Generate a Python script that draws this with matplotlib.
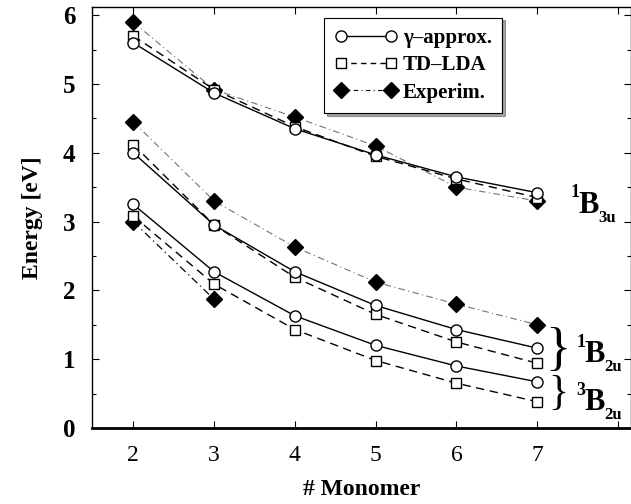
import matplotlib
matplotlib.use("Agg")
import matplotlib.pyplot as plt

# monomer count
monomers = [2, 3, 4, 5, 6, 7]

# 1B3u state
b3u_gamma = [5.60, 4.87, 4.35, 3.97, 3.65, 3.42]
b3u_tdlda = [5.70, 4.92, 4.38, 3.95, 3.62, 3.35]
b3u_exp = [5.90, 4.92, 4.52, 4.10, 3.50, 3.30]

# 1B2u state
s_b2u_gamma = [4.00, 2.95, 2.27, 1.78, 1.43, 1.16]
s_b2u_tdlda = [4.12, 2.95, 2.19, 1.65, 1.25, 0.94]
s_b2u_exp = [4.45, 3.30, 2.63, 2.12, 1.80, 1.50]

# 3B2u state (experiment only for 2 and 3)
t_b2u_gamma = [3.25, 2.27, 1.63, 1.20, 0.90, 0.67]
t_b2u_tdlda = [3.08, 2.09, 1.43, 0.98, 0.65, 0.38]
t_monomers_exp = [2, 3]
t_b2u_exp = [3.00, 1.87]

xticks = [2, 3, 4, 5, 6, 7, 8]
xticklabels = ["2", "3", "4", "5", "6", "7", ""]
yticks = [0, 1, 2, 3, 4, 5, 6]

# state labels: (x, baseline y, superscript, subscript)
state_labels = [(7.51, 3.13, "1", "3u"), (7.58, 0.96, "1", "2u"), (7.58, 0.26, "3", "2u")]

plt.rcParams["font.family"] = ["Liberation Serif", "DejaVu Serif"]

fig = plt.figure(figsize=(6.31, 5.04), dpi=100)
ax = fig.add_axes([0.146, 0.151, 0.854, 0.835])

circ = dict(marker="o", ms=8, mfc="white", mec="black", mew=1.0)
sq = dict(marker="s", ms=7, mfc="white", mec="black", mew=1.0)
dia = dict(marker="D", ms=8, mfc="black", mec="black")
dashdot = (0, (6, 3, 1, 3))

# experiment lines underneath
ax.plot(monomers, b3u_exp, color="0.45", lw=0.8, ls=dashdot, **dia)
ax.plot(monomers, s_b2u_exp, color="0.45", lw=0.8, ls=dashdot, **dia)
ax.plot(t_monomers_exp, t_b2u_exp, color="black", lw=0.9, ls=dashdot, **dia)

ax.plot(monomers, b3u_tdlda, color="black", lw=1.0, ls=(0, (6, 4)), **sq)
ax.plot(monomers, s_b2u_tdlda, color="black", lw=1.0, ls=(0, (6, 4)), **sq)
ax.plot(monomers, t_b2u_tdlda, color="black", lw=1.0, ls=(0, (6, 4)), **sq)

ax.plot(monomers, b3u_gamma, color="black", lw=1.0, **circ)
ax.plot(monomers, s_b2u_gamma, color="black", lw=1.0, **circ)
ax.plot(monomers, t_b2u_gamma, color="black", lw=1.0, **circ)

# legend handles
h1, = ax.plot([], [], color="black", lw=1.0, **circ)
h2, = ax.plot([], [], color="black", lw=1.0, ls=(0, (4, 3)), **sq)
h3, = ax.plot([], [], color="black", lw=0.8, ls=(0, (4, 3, 1, 3)), **dia)
leg = ax.legend([h1, h2, h3], ["γ–approx.", "TD–LDA", "Experim."],
                loc="upper left", bbox_to_anchor=(0.43, 0.975), borderaxespad=0,
                numpoints=2, handlelength=3.0, fancybox=False, shadow=True,
                edgecolor="black", framealpha=1, prop=dict(weight="bold", size=15),
                labelspacing=0.35, handletextpad=0.3, borderpad=0.5)
leg.get_frame().set_linewidth(0.8)

for x, y, sup, sub in state_labels:
    ax.text(x, y, "B", fontsize=22, fontweight="bold", ha="left", va="baseline")
    ax.annotate(sup, (x, y), xytext=(-5.8, 11), textcoords="offset points",
                fontsize=13, fontweight="bold", ha="left", va="baseline")
    ax.annotate(sub, (x, y), xytext=(14.6, -6.5), textcoords="offset points",
                fontsize=12, fontweight="bold", ha="left", va="baseline")

ax.text(7.26, 1.12, "}", fontsize=38, ha="center", va="center")
ax.text(7.26, 0.49, "}", fontsize=30, ha="center", va="center")

ax.set_xlim(1.49, 8.16)
ax.set_ylim(0, 6.12)
ax.set_xticks(xticks, labels=xticklabels, fontsize=17)
ax.set_yticks(yticks, labels=[str(v) for v in yticks], fontsize=18, fontweight="bold")
ax.set_yticks([0.5, 1.5, 2.5, 3.5, 4.5, 5.5], minor=True)
ax.tick_params(which="both", direction="in", top=True, right=True, width=0.8)
ax.tick_params(which="major", length=5)
ax.tick_params(which="minor", length=3)
ax.tick_params(axis="y", pad=12)
ax.tick_params(axis="x", pad=12)
for s in ax.spines.values():
    s.set_linewidth(1.0)
ax.spines["bottom"].set_linewidth(2.0)

ax.set_xlabel("# Monomer", fontsize=17, fontweight="bold", labelpad=10)
ax.set_ylabel("Energy [eV]", fontsize=17, fontweight="bold", labelpad=14)

fig.savefig("out.png", dpi=100)
